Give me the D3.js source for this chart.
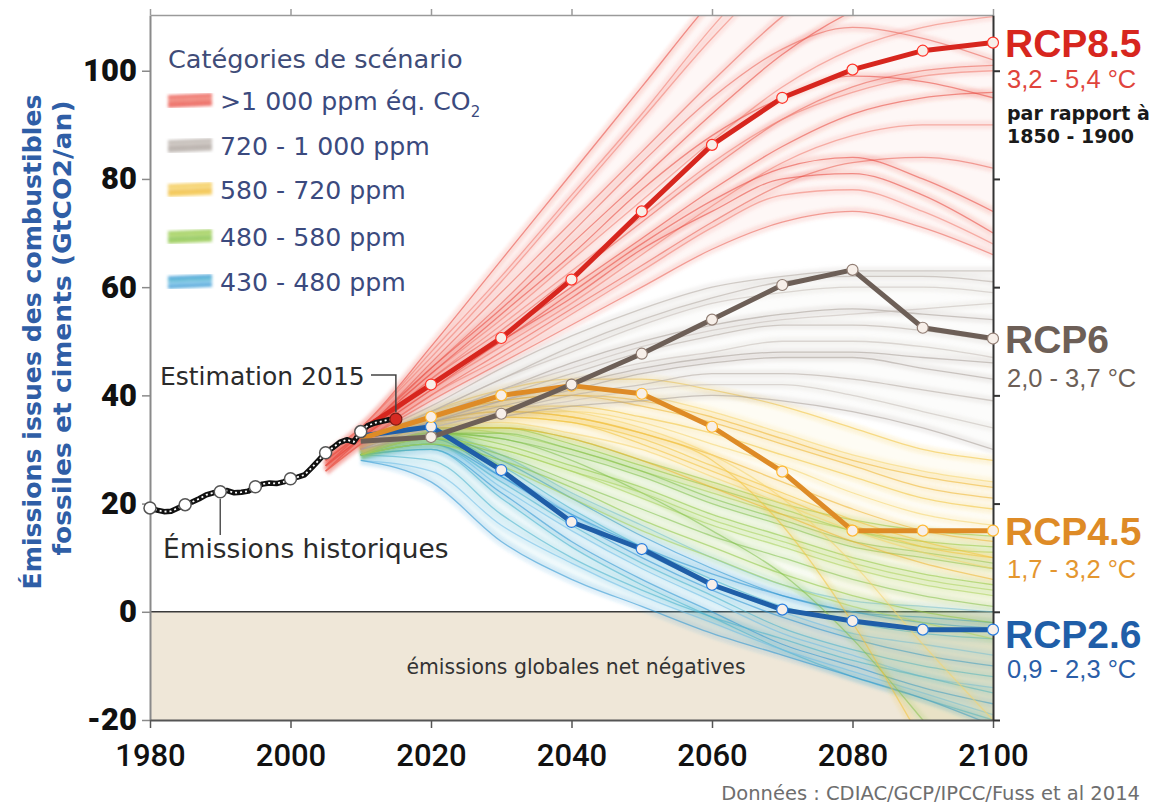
<!DOCTYPE html>
<html>
<head>
<meta charset="utf-8">
<script src="https://cdn.jsdelivr.net/npm/d3@7"></script>
<style>
	body { margin: 0; background: #fff; }
	svg { display: block; }
</style>
</head>
<body>
<div id="chart"></div>
<script>
// data (GtCO2 / an)
const histYears = d3.range(1980, 2016);
const histValues = [
	19.2, 18.8, 18.5, 18.6, 19.2, 19.8, 20.3, 20.9, 21.6, 22.0,
	22.2, 22.4, 22.0, 22.1, 22.3, 23.1, 23.6, 23.8, 23.7, 24.0,
	24.6, 24.9, 25.3, 26.6, 28.0, 29.4, 30.3, 31.3, 31.8, 31.4,
	33.3, 34.4, 34.9, 35.2, 35.5, 35.6,
];
const histMarkerYears = [1980, 1985, 1990, 1995, 2000, 2005, 2010];

const rcpYears = [2010, 2020, 2030, 2040, 2050, 2060, 2070, 2080, 2090, 2100];
const rcp85 = [33.5, 42.0, 50.6, 61.4, 74.0, 86.3, 95.0, 100.2, 103.7, 105.2];
const rcp6 = [31.5, 32.3, 36.6, 42.0, 47.7, 54.0, 60.4, 63.2, 52.5, 50.5];
const rcp45 = [32.0, 36.0, 40.0, 41.8, 40.3, 34.2, 25.9, 15.0, 15.0, 15.0];
const rcp26 = [32.5, 34.2, 26.2, 16.6, 11.6, 5.0, 0.4, -1.7, -3.3, -3.3];

const redYears = [2005, 2010, 2020, 2030, 2040, 2050, 2060, 2070, 2080, 2090, 2100];
const redLines = [
	[29, 34, 49, 65, 81, 97, 113, 126, 136, 142, 146],
	[28, 34, 47, 61, 76, 91, 106, 119, 128, 134, 138],
	[28, 33, 46, 59, 72, 85, 98, 110, 119, 125, 129],
	[27, 33, 45, 56, 68, 80, 92, 103, 111, 116, 119],
	[28, 33, 44, 54, 65, 76, 87, 97, 104, 108, 110],
	[27, 32, 43, 52, 62, 72, 82, 91, 97, 100, 101],
	[26, 32, 42, 51, 60, 69, 78, 86, 92, 95, 96],
	[27, 32, 41, 49, 57, 66, 75, 83, 88, 90, 90],
	[26, 31, 40, 48, 56, 64, 72, 79, 83, 84, 82],
	[27, 32, 42, 50, 59, 68, 76, 82, 84, 80, 74],
	[26, 31, 40, 47, 55, 63, 71, 77, 78, 74, 68],
	[26, 31, 39, 46, 53, 60, 67, 72, 74, 71, 66],
	[28, 33, 44, 55, 66, 78, 88, 95, 99, 98, 95],
	[27, 32, 43, 53, 63, 73, 83, 91, 96, 99, 100],
	[28, 33, 45, 57, 70, 83, 95, 104, 108, 106, 102],
	[27, 32, 41, 50, 58, 67, 74, 80, 81, 77, 70],
	[29, 34, 48, 62, 77, 92, 108, 122, 132, 139, 143],
];
const grayLines = [
	[32, 38, 45, 51, 56, 60, 62, 63, 63, 63],
	[32, 37, 43, 48, 53, 57, 59, 60, 60, 59],
	[31, 36, 41, 46, 50, 53, 55, 56, 55, 54],
	[31, 36, 40, 44, 48, 51, 53, 53, 52, 50],
	[31, 35, 39, 43, 46, 48, 50, 50, 49, 47],
	[31, 35, 38, 41, 44, 46, 47, 47, 45, 43],
	[30, 34, 37, 40, 42, 44, 44, 43, 41, 39],
	[30, 34, 37, 39, 41, 42, 42, 40, 37, 34],
	[30, 33, 36, 38, 39, 40, 39, 37, 34, 30],
	[31, 37, 43, 49, 54, 58, 61, 62, 62, 61],
	[31, 36, 41, 45, 49, 52, 54, 55, 56, 57],
	[30, 35, 39, 42, 45, 47, 48, 48, 47, 46],
];
const yellowLines = [
	[31, 37, 41, 43, 43, 41, 38, 34, 30, 28],
	[31, 37, 40, 41, 40, 37, 33, 29, 26, 24],
	[31, 36, 39, 40, 38, 35, 31, 27, 23, 21],
	[30, 36, 38, 38, 36, 33, 29, 25, 21, 19],
	[30, 35, 37, 37, 35, 31, 27, 22, 18, 16],
	[30, 35, 37, 36, 33, 29, 24, 19, 15, 13],
	[30, 35, 36, 35, 32, 27, 22, 17, 13, 10],
	[30, 34, 35, 33, 30, 25, 20, 15, 11, 8],
	[30, 34, 34, 32, 28, 23, 18, 13, 9, 6],
	[30, 35, 37, 36, 33, 28, 16, -2, -24, -45],
	[31, 36, 38, 37, 34, 29, 21, 9, -6, -20],
	[31, 36, 39, 40, 39, 36, 32, 28, 25, 23],
	[30, 35, 36, 35, 31, 26, 21, 16, 12, 10],
];
const greenLines = [
	[30, 34, 34, 32, 28, 24, 20, 17, 15, 14],
	[30, 34, 33, 30, 26, 22, 18, 15, 12, 11],
	[30, 33, 32, 29, 25, 20, 16, 12, 10, 8],
	[29, 33, 31, 27, 23, 18, 14, 10, 7, 5],
	[29, 32, 30, 26, 21, 16, 12, 8, 5, 3],
	[29, 32, 29, 24, 19, 14, 10, 6, 3, 1],
	[29, 31, 28, 23, 17, 12, 7, 3, 0, -2],
	[29, 31, 27, 21, 15, 10, 5, 1, -2, -5],
	[29, 33, 32, 28, 22, 15, 7, -5, -20, -36],
	[30, 34, 34, 31, 27, 23, 19, 15, 13, 12],
	[29, 32, 30, 26, 22, 17, 13, 9, 6, 4],
	[30, 33, 33, 30, 26, 21, 17, 13, 11, 9],
];
const blueLines = [
	[30, 33, 28, 21, 14, 8, 3, 0, -1, -2],
	[30, 33, 27, 19, 12, 6, 1, -2, -4, -5],
	[30, 32, 26, 18, 11, 5, 0, -4, -6, -8],
	[29, 32, 25, 17, 10, 4, -1, -5, -8, -10],
	[29, 31, 24, 16, 9, 3, -3, -7, -10, -12],
	[29, 31, 23, 15, 8, 2, -4, -8, -12, -14],
	[29, 30, 22, 13, 6, 0, -6, -10, -14, -17],
	[29, 30, 21, 12, 5, -1, -7, -12, -16, -20],
	[28, 26, 16, 9, 3, -2, -7, -11, -15, -19],
	[28, 24, 13, 6, 1, -4, -8, -12, -16, -21],
	[29, 28, 18, 10, 4, -1, -5, -9, -12, -15],
	[30, 33, 29, 22, 16, 10, 5, 2, 1, 0],
	[29, 31, 25, 18, 12, 7, 3, 0, -2, -3],
];

const categoryNames = [">1 000 ppm éq. CO", "720 - 1 000 ppm", "580 - 720 ppm", "480 - 580 ppm", "430 - 480 ppm"];
const rcpNames = ["RCP8.5", "RCP6", "RCP4.5", "RCP2.6"];
const rcpRanges = ["3,2 - 5,4 °C", "2,0 - 3,7 °C", "1,7 - 3,2 °C", "0,9 - 2,3 °C"];
const xTicks = [1980, 2000, 2020, 2040, 2060, 2080, 2100];
const yTicks = [-20, 0, 20, 40, 60, 80, 100];

const svgWidth = 1154;
const svgHeight = 809;
const plot = { left: 150, right: 993, top: 15, bottom: 720 };

const bundleColors = [
	["#e8453c", "#f07a6e", "#e95e52"],
	["#b2a9a3", "#c4bcb6", "#a79e98"],
	["#f3c23a", "#f6d46a", "#eeb52d"],
	["#8dc63f", "#a6d25a", "#7fbf4a"],
	["#2a93d1", "#45b0cc", "#6cbce6"],
];
const rcpColors = ["#d7261e", "#6d5f57", "#de8b26", "#1f5ea8"];
const rcpTextColors = ["#e0443c", "#6d5f57", "#e4962f", "#2a5ea8"];

const x = d3.scaleLinear().domain([1980, 2100]).range([plot.left, plot.right]);
const y = d3.scaleLinear().domain([-20, 110.3]).range([plot.bottom, plot.top]);

const svg = d3
	.select("#chart")
	.append("svg")
	.attr("width", svgWidth)
	.attr("height", svgHeight)
	.attr("viewBox", `0 0 ${svgWidth} ${svgHeight}`);

const defs = svg.append("defs");
defs
	.append("clipPath")
	.attr("id", "plot-clip")
	.append("rect")
	.attr("x", plot.left)
	.attr("y", plot.top)
	.attr("width", plot.right - plot.left)
	.attr("height", plot.bottom - plot.top);
defs
	.append("filter")
	.attr("id", "soft")
	.attr("x", "-10%")
	.attr("y", "-10%")
	.attr("width", "120%")
	.attr("height", "120%")
	.append("feGaussianBlur")
	.attr("stdDeviation", 1.4);

// zone négative
svg
	.append("rect")
	.attr("x", plot.left)
	.attr("y", y(0))
	.attr("width", plot.right - plot.left)
	.attr("height", y(-20) - y(0))
	.attr("fill", "#efe7d8");

svg
	.append("line")
	.attr("x1", plot.left)
	.attr("x2", plot.right)
	.attr("y1", y(0))
	.attr("y2", y(0))
	.attr("stroke", "#3a3a3a")
	.attr("stroke-width", 1.5);

svg
	.append("text")
	.attr("x", 576)
	.attr("y", 674)
	.attr("text-anchor", "middle")
	.attr("font-family", "DejaVu Sans, sans-serif")
	.attr("font-size", 20.4)
	.attr("fill", "#333")
	.text("émissions globales net négatives");

// faisceaux de scénarios
const spaghetti = svg.append("g").attr("clip-path", "url(#plot-clip)");
const lineGen = d3
	.line()
	.x((d) => x(d[0]))
	.y((d) => y(d[1]))
	.curve(d3.curveMonotoneX);
const areaGen = d3
	.area()
	.x((d) => x(d[0]))
	.y0((d) => y(d[1]))
	.y1((d) => y(d[2]))
	.curve(d3.curveMonotoneX);

const drawBundle = (years, lines, colors, envOpacity) => {
	const pts = lines.map((vals) => vals.map((v, i) => [years[i], v]));
	const env = years.map((yr, i) => [yr, d3.min(lines, (l) => l[i]), d3.max(lines, (l) => l[i])]);
	const g = spaghetti.append("g");
	g.append("path")
		.datum(env)
		.attr("d", areaGen)
		.attr("fill", colors[1])
		.attr("fill-opacity", envOpacity);
	g.append("g")
		.attr("filter", "url(#soft)")
		.selectAll("path")
		.data(pts)
		.join("path")
		.attr("d", lineGen)
		.attr("fill", "none")
		.attr("stroke", (d, i) => colors[i % colors.length])
		.attr("stroke-width", 9)
		.attr("stroke-opacity", 0.14);
	g.append("g")
		.selectAll("path")
		.data(pts)
		.join("path")
		.attr("d", lineGen)
		.attr("fill", "none")
		.attr("stroke", (d, i) => colors[i % colors.length])
		.attr("stroke-width", 1.3)
		.attr("stroke-opacity", 0.55);
};

drawBundle(rcpYears, blueLines, bundleColors[4], 0.08);
drawBundle(rcpYears, greenLines, bundleColors[3], 0.08);
drawBundle(rcpYears, yellowLines, bundleColors[2], 0.07);
drawBundle(rcpYears, grayLines, bundleColors[1], 0.05);
drawBundle(redYears, redLines, bundleColors[0], 0.06);

// axes
const tickFont = "Roboto, 'DejaVu Sans', sans-serif";

const yAxis = svg
	.append("g")
	.attr("transform", `translate(${plot.left},0)`)
	.call(
		d3.axisLeft(y)
			.tickValues(yTicks)
			.tickFormat((d) => String(d))
			.tickSize(8)
			.tickPadding(5)
			.tickSizeOuter(0)
	);
yAxis.select(".domain").attr("stroke", "#8a8a8a").attr("stroke-width", 2);
yAxis.selectAll(".tick line").attr("stroke", "#8a8a8a").attr("stroke-width", 1.5);
yAxis
	.selectAll(".tick text")
	.attr("font-family", tickFont)
	.attr("font-weight", 900)
	.attr("font-size", 31)
	.attr("fill", "#111");

const xAxis = svg
	.append("g")
	.attr("transform", `translate(0,${plot.bottom})`)
	.call(d3.axisBottom(x).tickValues(xTicks).tickFormat(d3.format("d")).tickSize(8).tickPadding(16).tickSizeOuter(0));
xAxis.select(".domain").attr("stroke", "#555").attr("stroke-width", 2);
xAxis.selectAll(".tick line").attr("stroke", "#555").attr("stroke-width", 1.5);
xAxis
	.selectAll(".tick text")
	.attr("font-family", tickFont)
	.attr("font-weight", 500)
	.attr("font-size", 31)
	.attr("fill", "#111");

const topAxis = svg
	.append("g")
	.attr("transform", `translate(0,${plot.top})`)
	.call(d3.axisTop(x).tickValues(xTicks).tickSize(6).tickFormat("").tickSizeOuter(0));
topAxis.selectAll("path, line").attr("stroke", "#9a9a9a").attr("stroke-width", 1.5);

const rightAxis = svg
	.append("g")
	.attr("transform", `translate(${plot.right},0)`)
	.call(d3.axisRight(y).tickValues(yTicks).tickSize(7).tickFormat("").tickSizeOuter(0));
rightAxis.selectAll("path, line").attr("stroke", "#333").attr("stroke-width", 2);

// trajectoires RCP
const rcpSeries = [rcp85, rcp6, rcp45, rcp26];
const straight = d3
	.line()
	.x((d) => x(d[0]))
	.y((d) => y(d[1]));

[rcp26, rcp45, rcp6, rcp85].forEach((vals) => {
	const k = rcpSeries.indexOf(vals);
	const pts = vals.map((v, i) => [rcpYears[i], v]);
	const g = svg.append("g");
	g.append("path")
		.datum(pts)
		.attr("d", straight)
		.attr("fill", "none")
		.attr("stroke", rcpColors[k])
		.attr("stroke-width", 5)
		.attr("stroke-linejoin", "round");
	g.selectAll("circle")
		.data(pts.slice(1))
		.join("circle")
		.attr("cx", (d) => x(d[0]))
		.attr("cy", (d) => y(d[1]))
		.attr("r", 5.5)
		.attr("fill", "#f7efe9")
		.attr("stroke", d3.color(rcpColors[k]).brighter(0.8))
		.attr("stroke-width", 1.2);
});

// émissions historiques
const histPts = histYears.map((yr, i) => [yr, histValues[i]]);
svg.append("path")
	.datum(histPts)
	.attr("d", straight)
	.attr("fill", "none")
	.attr("stroke", "#111")
	.attr("stroke-width", 5.5)
	.attr("stroke-linejoin", "round");
svg.append("path")
	.datum(histPts)
	.attr("d", straight)
	.attr("fill", "none")
	.attr("stroke", "#fff")
	.attr("stroke-width", 1.8)
	.attr("stroke-dasharray", "2 3");
svg.append("g")
	.selectAll("circle")
	.data(histMarkerYears)
	.join("circle")
	.attr("cx", (d) => x(d))
	.attr("cy", (d) => y(histValues[histYears.indexOf(d)]))
	.attr("r", 6)
	.attr("fill", "#fff")
	.attr("stroke", "#555")
	.attr("stroke-width", 1.5);
svg.append("circle")
	.attr("cx", x(2015))
	.attr("cy", y(histValues[histValues.length - 1]))
	.attr("r", 6)
	.attr("fill", "#d62a22")
	.attr("stroke", "#7a1a14")
	.attr("stroke-width", 1.2);

// annotations
const annoFont = "'DejaVu Sans', sans-serif";
svg.append("text")
	.attr("x", 160)
	.attr("y", 385)
	.attr("font-family", annoFont)
	.attr("font-size", 25)
	.attr("fill", "#2b2b2b")
	.text("Estimation 2015");
svg.append("path")
	.attr("d", `M371,375 H${x(2015)} V${y(histValues[histValues.length - 1]) - 7}`)
	.attr("fill", "none")
	.attr("stroke", "#444")
	.attr("stroke-width", 1.5);

svg.append("text")
	.attr("x", 163)
	.attr("y", 558)
	.attr("font-family", annoFont)
	.attr("font-size", 26.4)
	.attr("fill", "#2b2b2b")
	.text("Émissions historiques");
svg.append("line")
	.attr("x1", x(1990))
	.attr("x2", x(1990))
	.attr("y1", y(22.2) + 7)
	.attr("y2", 535)
	.attr("stroke", "#555")
	.attr("stroke-width", 1.5);

// légende
const legend = svg.append("g");
legend.append("text")
	.attr("x", 168)
	.attr("y", 68)
	.attr("font-family", annoFont)
	.attr("font-size", 25.6)
	.attr("fill", "#3f4c78")
	.text("Catégories de scénario");

const legendRows = [101, 146, 190, 237, 282];
const swatchOffsets = [-5, -2, 1, 4];
categoryNames.forEach((name, i) => {
	const cy = legendRows[i];
	const sw = legend.append("g").attr("filter", "url(#soft)");
	swatchOffsets.forEach((o, j) => {
		sw.append("line")
			.attr("x1", 168)
			.attr("x2", 212)
			.attr("y1", cy + o + 1)
			.attr("y2", cy + o - 1)
			.attr("stroke", bundleColors[i][j % 3])
			.attr("stroke-width", 3.5)
			.attr("stroke-opacity", 0.75);
	});
	const t = legend.append("text")
		.attr("x", 220)
		.attr("y", cy + 9)
		.attr("font-family", annoFont)
		.attr("font-size", 25.2)
		.attr("fill", "#3b4a7e")
		.text(name);
	if (i === 0) {
		t.append("tspan").attr("dy", 7).attr("font-size", 15).text("2");
	}
});

// étiquettes RCP
const rcpLabelY = [57, 353, 545, 648];
const rcpRangeY = [88, 387, 578, 678];
const labelFont = "'Liberation Sans', Arial, sans-serif";
rcpNames.forEach((name, i) => {
	svg.append("text")
		.attr("x", 1005)
		.attr("y", rcpLabelY[i])
		.attr("font-family", labelFont)
		.attr("font-weight", 700)
		.attr("font-size", 39)
		.attr("fill", rcpColors[i])
		.text(name);
	svg.append("text")
		.attr("x", 1007)
		.attr("y", rcpRangeY[i])
		.attr("font-family", labelFont)
		.attr("font-size", 25.5)
		.attr("fill", rcpTextColors[i])
		.text(rcpRanges[i]);
});
svg.append("text")
	.attr("x", 1007)
	.attr("y", 120)
	.attr("font-family", annoFont)
	.attr("font-weight", 700)
	.attr("font-size", 19)
	.attr("fill", "#1a1a1a")
	.text("par rapport à");
svg.append("text")
	.attr("x", 1007)
	.attr("y", 143)
	.attr("font-family", annoFont)
	.attr("font-weight", 700)
	.attr("font-size", 19)
	.attr("fill", "#1a1a1a")
	.text("1850 - 1900");

// titre de l'axe vertical
const titleFont = "'Liberation Sans Narrow', 'DejaVu Sans Condensed', 'Liberation Sans', sans-serif";
svg.append("text")
	.attr("transform", "translate(41,342) rotate(-90)")
	.attr("text-anchor", "middle")
	.attr("font-family", titleFont)
	.attr("font-weight", 700)
	.attr("font-size", 25)
	.attr("fill", "#2f5ea6")
	.attr("textLength", 495)
	.attr("lengthAdjust", "spacingAndGlyphs")
	.text("Émissions issues des combustibles");
svg.append("text")
	.attr("transform", "translate(71,328) rotate(-90)")
	.attr("text-anchor", "middle")
	.attr("font-family", titleFont)
	.attr("font-weight", 700)
	.attr("font-size", 25)
	.attr("fill", "#2f5ea6")
	.attr("textLength", 455)
	.attr("lengthAdjust", "spacingAndGlyphs")
	.text("fossiles et ciments (GtCO2/an)");

svg.append("text")
	.attr("x", 1140)
	.attr("y", 800)
	.attr("text-anchor", "end")
	.attr("font-family", annoFont)
	.attr("font-size", 19.5)
	.attr("fill", "#6e6e6e")
	.text("Données : CDIAC/GCP/IPCC/Fuss et al 2014");
</script>
</body>
</html>
